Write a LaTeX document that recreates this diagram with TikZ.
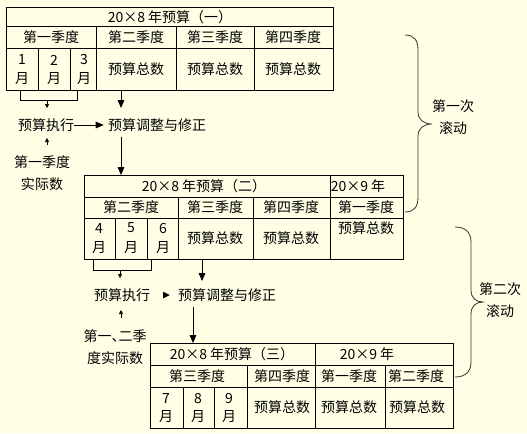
\documentclass[tikz,border=0pt]{standalone}
\usepackage{fontspec}
\setmainfont{Noto Sans CJK SC}
\usetikzlibrary{arrows.meta,calc}
\definecolor{bgyellow}{RGB}{255,255,230}
\begin{document}
\begin{tikzpicture}[x=0.75pt,y=-0.75pt,
  font=\fontsize{10.5}{12}\selectfont,
  txt/.style={inner sep=0pt},
  ln/.style={line width=0.6pt},
  bigarr/.style={line width=0.6pt,-{Triangle[length=6pt,width=5pt]}},
  smallarr/.style={line width=0.5pt,-{Triangle[length=3pt,width=3pt]}}]
\fill[bgyellow] (0,0) rectangle (527,433);
\useasboundingbox (0,0) rectangle (527,433);

% ---------- Table 1 ----------
\draw[ln] (6,7) rectangle (333,90);
\draw[ln] (6,26) -- (333,26) (6,48) -- (333,48);
\draw[ln] (96,26) -- (96,90) (176,26) -- (176,90) (254,26) -- (254,90);
\draw[ln] (38,48) -- (38,90) (70,48) -- (70,90);
\node[txt] (h1) at (170,17) {20×8 年预算（一）};
\node[txt] (q11) at (51,37) {第一季度};
\node[txt] (q12) at (136,37) {第二季度};
\node[txt] (q13) at (215,37) {第三季度};
\node[txt] (q14) at (293,37) {第四季度};
\node[txt] (m1a) at (22,60) {1};  \node[txt] (m1b) at (22,79) {月};
\node[txt] (m2a) at (54,60) {2};  \node[txt] (m2b) at (54,79) {月};
\node[txt] (m3a) at (84,60) {3};  \node[txt] (m3b) at (84,79) {月};
\node[txt] (s12) at (136,69) {预算总数};
\node[txt] (s13) at (215,69) {预算总数};
\node[txt] (s14) at (293,69) {预算总数};

% connectors after table 1
\draw[ln] (20,90) -- (20,100) -- (77,100) -- (77,90);
\coordinate (br1) at (47,100);
\coordinate (t1b) at (121,90);
\node[txt] (exe1) at (46,125) {预算执行};
\node[txt] (adj1) at (157,125) {预算调整与修正};
\node[txt,align=center] (act1) at (42,173) {第一季度\\[4pt]实际数};
\draw[smallarr] (br1) -- (47,108);
\draw[bigarr] (t1b) -- (121,108);
\draw[bigarr] (exe1.east) -- ($(adj1.west)+(-4,0)$);
\draw[smallarr] (47,145) -- (47,138);
\coordinate (t2top) at (121,175);
\draw[bigarr] (121,137) -- (t2top);

% ---------- Table 2 ----------
\draw[ln] (84,175) rectangle (403,259);
\draw[ln] (84,197) -- (403,197) (84,218) -- (403,218);
\draw[ln] (330,175) -- (330,259);
\draw[ln] (178,197) -- (178,259) (253,197) -- (253,259);
\draw[ln] (115,218) -- (115,259) (147,218) -- (147,259);
\node[txt] (h2) at (204,186) {20×8 年预算（二）};
\node[txt] (h2b) at (358,186) {20×9 年};
\node[txt] (q22) at (131,207) {第二季度};
\node[txt] (q23) at (215,207) {第三季度};
\node[txt] (q24) at (291,207) {第四季度};
\node[txt] (q21) at (366,207) {第一季度};
\node[txt] (m4a) at (99,228) {4};  \node[txt] (m4b) at (99,248) {月};
\node[txt] (m5a) at (131,228) {5}; \node[txt] (m5b) at (131,248) {月};
\node[txt] (m6a) at (163,228) {6}; \node[txt] (m6b) at (163,248) {月};
\node[txt] (s23) at (215,238) {预算总数};
\node[txt] (s24) at (291,238) {预算总数};
\node[txt] (s21) at (366,228) {预算总数};

% connectors after table 2
\draw[ln] (93,259) -- (93,270) -- (151,270) -- (151,259);
\coordinate (br2) at (120,270);
\coordinate (t2b) at (202,259);
\node[txt] (exe2) at (122,295) {预算执行};
\node[txt] (adj2) at (227,295) {预算调整与修正};
\node[txt,align=center] (act2) at (115,347) {第一、\kern-0.5em二季\\[4pt]度实际数};
\draw[smallarr] (br2) -- (120,278);
\draw[bigarr] (t2b) -- (202,281);
\draw[line width=0pt,-{Triangle[length=5pt,width=5pt]}] ($(adj2.west)+(-14,0)$) -- ($(adj2.west)+(-8,0)$);
\draw[smallarr] (121,318) -- (121,310);
\coordinate (t3top) at (193,343);
\draw[bigarr] (193,307) -- (t3top);

% ---------- Table 3 ----------
\draw[ln] (150,343) rectangle (453,428);
\draw[ln] (150,365) -- (453,365) (150,387) -- (453,387);
\draw[ln] (315,343) -- (315,428);
\draw[ln] (247,365) -- (247,428) (385,365) -- (385,428);
\draw[ln] (183,387) -- (183,428) (214,387) -- (214,428);
\node[txt] (h3) at (232,354) {20×8 年预算（三）};
\node[txt] (h3b) at (367,354) {20×9 年};
\node[txt] (q33) at (197,376) {第三季度};
\node[txt] (q34) at (282,376) {第四季度};
\node[txt] (q31) at (349,376) {第一季度};
\node[txt] (q32) at (416,376) {第二季度};
\node[txt] (m7a) at (166,398) {7};  \node[txt] (m7b) at (166,417) {月};
\node[txt] (m8a) at (198,398) {8};  \node[txt] (m8b) at (198,417) {月};
\node[txt] (m9a) at (229,398) {9};  \node[txt] (m9b) at (229,417) {月};
\node[txt] (s34) at (282,407) {预算总数};
\node[txt] (s31) at (349,407) {预算总数};
\node[txt] (s32) at (417,407) {预算总数};

% ---------- Braces ----------
\draw[line width=0.6pt,black!80] (405,35) .. controls (414,35) and (418,40) .. (418,50)
  -- (418,112) .. controls (418,120) and (424,124) .. (432,124)
  .. controls (424,124) and (418,128) .. (418,136)
  -- (418,197) .. controls (418,207) and (414,212) .. (405,212);
\node[txt,align=center] (roll1) at (453,117) {第一次\\[4pt]滚动};
\draw[line width=0.6pt,black!80] (455,227) .. controls (465,227) and (471,232) .. (471,242)
  -- (471,290) .. controls (471,298) and (476,302) .. (483,302)
  .. controls (476,302) and (471,306) .. (471,314)
  -- (471,362) .. controls (471,372) and (465,377) .. (455,377);
\node[txt,align=center] (roll2) at (500,300) {第二次\\[4pt]滚动};
\end{tikzpicture}
\end{document}
